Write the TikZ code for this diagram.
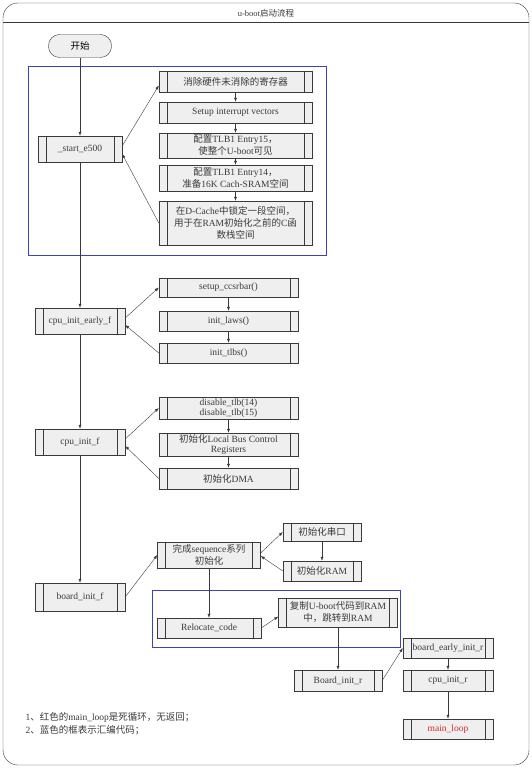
\documentclass[tikz,border=0pt]{standalone}
\usepackage{fontspec}
\setmainfont{Liberation Serif}
\newfontfamily\cjk{Noto Sans CJK SC}
\newcommand{\zh}[1]{{\cjk #1}}
\usetikzlibrary{arrows.meta}
\definecolor{linegray}{HTML}{3A3A3A}
\definecolor{boxgray}{HTML}{EFEFEF}
\definecolor{asmblue}{HTML}{3F3FC0}
\definecolor{loopred}{HTML}{D42A2A}

\begin{document}
\begin{tikzpicture}[x=1pt, y=-1pt,
    proc/.style={draw=linegray, fill=boxgray, font=\fontsize{9.5}{12}\selectfont, text=linegray,
        align=center, inner sep=1pt,
        path picture={\draw[linegray]
            ([xshift=8pt]path picture bounding box.north west) -- ([xshift=8pt]path picture bounding box.south west)
            ([xshift=-8pt]path picture bounding box.north east) -- ([xshift=-8pt]path picture bounding box.south east);}},
    term/.style={draw=linegray, fill=boxgray, rounded corners=11pt, font=\fontsize{9.5}{12}\selectfont},
    sz/.style 2 args={minimum width=#1, minimum height=#2},
    arrow/.style={-{Latex[length=4pt,width=3pt]}, linegray},
    asm/.style={draw=asmblue, line width=0.9pt},
    note/.style={font=\fontsize{9.5}{12}\selectfont, text=linegray, anchor=west}
]
    \useasboundingbox (0,0) rectangle (532,768);
    % frame and title
    \draw[linegray, rounded corners=15pt] (3,3) rectangle (529,765);
    \draw[linegray] (3,22) -- (529,22);
    \node[font=\fontsize{8.5}{10}\selectfont, text=linegray] (title) at (266,13) {u-boot\zh{启动流程}};

    % assembly frames
    \draw[asm] (28,66) rectangle (326,255);
    \draw[asm] (152,590) rectangle (400,647);

    % main column
    \node[term, sz={63}{23}] (start) at (80,46) {\zh{开始}};
    \node[proc, sz={84}{26}] (e500) at (80,149) {\_start\_e500};
    \node[proc, sz={90}{26}] (early) at (80,321) {cpu\_init\_early\_f};
    \node[proc, sz={90}{26}] (cpuf) at (80,442) {cpu\_init\_f};
    \node[proc, sz={90}{28}] (boardf) at (80,597) {board\_init\_f};

    % _start_e500
    \node[proc, sz={153}{21}] (clr) at (235.5,81.5) {\zh{消除硬件未消除的寄存器}};
    \node[proc, sz={153}{21}] (irq) at (235.5,112.5) {Setup interrupt vectors};
    \node[proc, sz={153}{25}] (tlb15) at (235.5,145.5) {\zh{配置}TLB1 Entry15\zh{，}\\\zh{使整个}U-boot\zh{可见}};
    \node[proc, sz={153}{26}] (tlb14) at (235.5,178) {\zh{配置}TLB1 Entry14\zh{，}\\\zh{准备}16K Cach-SRAM\zh{空间}};
    \node[proc, sz={153}{44}] (dcache) at (235.5,223) {\zh{在}D-Cache\zh{中锁定一段空间，}\\\zh{用于在}RAM\zh{初始化之前的}C\zh{函}\\\zh{数栈空间}};

    % cpu_init_early_f
    \node[proc, sz={139}{19}] (ccsr) at (228.5,287.5) {setup\_ccsrbar()};
    \node[proc, sz={139}{20}] (laws) at (228.5,321) {init\_laws()};
    \node[proc, sz={139}{20}] (tlbs) at (228.5,353) {init\_tlbs()};

    % cpu_init_f
    \node[proc, sz={139}{22}] (dis) at (228.5,408) {disable\_tlb(14)\\[-2pt]disable\_tlb(15)};
    \node[proc, sz={139}{23}] (lbc) at (228.5,444.5) {\zh{初始化}Local Bus Control\\[-2pt]Registers};
    \node[proc, sz={139}{21}] (dma) at (228.5,478.5) {\zh{初始化}DMA};

    % board_init_f
    \node[proc, sz={103}{26}] (seq) at (209,555) {\zh{完成}sequence\zh{系列}\\\zh{初始化}};
    \node[proc, sz={78}{18}] (uart) at (322,532) {\zh{初始化串口}};
    \node[proc, sz={78}{20}] (ram) at (322,571) {\zh{初始化}RAM};
    \node[proc, sz={104}{20}] (reloc) at (209,628) {Relocate\_code};
    \node[proc, sz={119}{29}] (copy) at (338,612.5) {\zh{复制}U-boot\zh{代码到}RAM\\\zh{中，跳转到}RAM};
    \node[proc, sz={88}{21}] (boardr) at (338,680.5) {Board\_init\_r};
    \node[proc, sz={90}{20}] (bearly) at (448,648) {board\_early\_init\_r};
    \node[proc, sz={90}{21}] (cpur) at (448,680.5) {cpu\_init\_r};
    \node[proc, sz={90}{20}, text=loopred] (mainloop) at (448,729) {main\_loop};

    % notes
    \node[note] (note1) at (22,717) {1\zh{、红色的}main\_loop\zh{是死循环，无返回；}};
    \node[note] (note2) at (22,730) {2\zh{、蓝色的框表示汇编代码；}};

    % main flow
    \foreach \a/\b in {start/e500, e500/early, early/cpuf, cpuf/boardf}
        \draw[arrow] (\a) -- (\b);
    \foreach \a/\b in {clr/irq, irq/tlb15, tlb15/tlb14, tlb14/dcache, ccsr/laws, laws/tlbs,
                       dis/lbc, lbc/dma, uart/ram, seq/reloc, copy/boardr, bearly/cpur, cpur/mainloop}
        \draw[arrow] (\a) -- (\b);

    % calls and returns
    \draw[arrow] ([yshift=3pt]e500.east) -- ([yshift=-4pt]clr.west);
    \draw[arrow] (dcache.west) -- ([yshift=-5pt]e500.east);
    \draw[arrow] ([yshift=3pt]early.east) -- (ccsr.west);
    \draw[arrow] (tlbs.west) -- ([yshift=-4pt]early.east);
    \draw[arrow] ([yshift=3pt]cpuf.east) -- (dis.west);
    \draw[arrow] (dma.west) -- ([yshift=-4pt]cpuf.east);
    \draw[arrow] (boardf.east) -- (seq.west);
    \draw[arrow] ([yshift=2pt]seq.east) -- (uart.west);
    \draw[arrow] (ram.west) -- ([yshift=-1pt]seq.east);
    \draw[arrow] (reloc.east) -- ([yshift=-4pt]copy.west);
    \draw[arrow] (boardr.east) -- (bearly.west);
\end{tikzpicture}
\end{document}
